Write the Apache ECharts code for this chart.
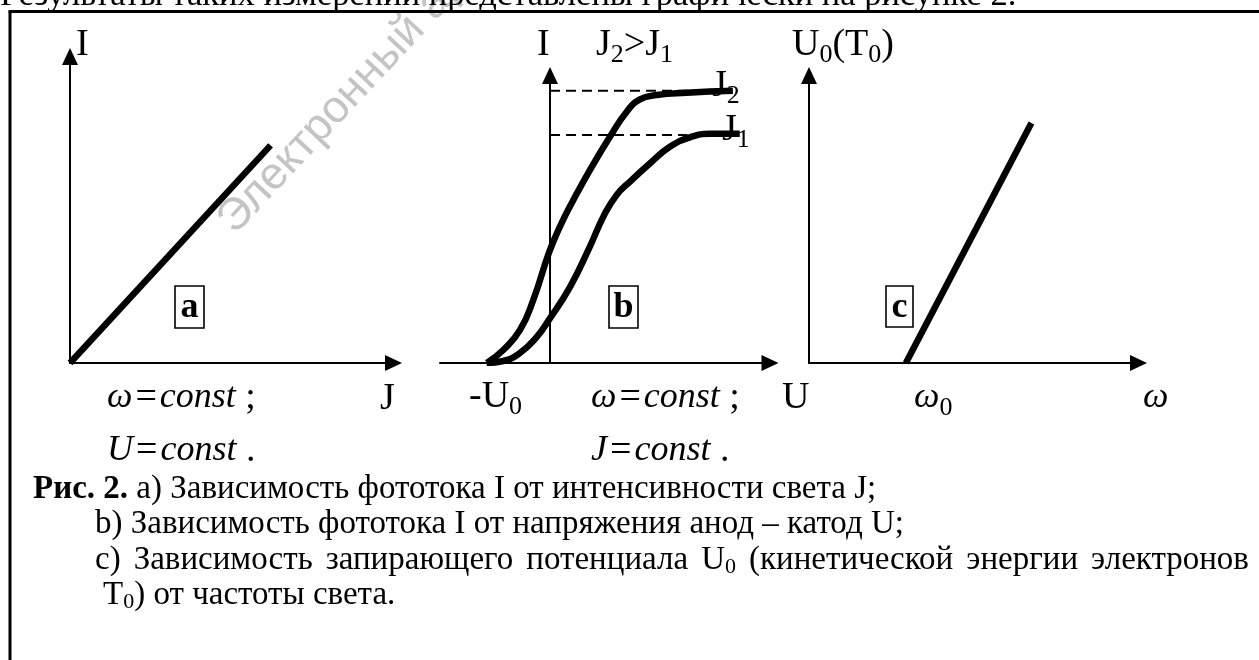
<!DOCTYPE html>
<html>
<head>
<meta charset="utf-8">
<script src="https://cdn.jsdelivr.net/npm/echarts@6/dist/echarts.min.js"></script>
<style>
  html, body { margin: 0; padding: 0; background: #fff; }
  #chart { width: 1259px; height: 660px; }
</style>
</head>
<body>
<div id="chart"></div>
<script>
// a) photocurrent I versus light intensity J (omega, U fixed)
const lineA = [[0, 0], [62, 71]];

// b) photocurrent I versus anode-cathode voltage U for two intensities
const curveJ2 = [[-2.3, 0], [-1.7, 4.5], [-1.09, 11.5], [-0.61, 21.9], [-0.04, 38.3], [0.36, 47.4],
  [0.85, 56.7], [1.45, 67.1], [2.18, 78.7], [2.79, 87.4], [3.27, 91.7], [3.88, 93.2],
  [4.97, 94.0], [6.65, 94.7]];
const curveJ1 = [[-2.3, 0], [-1.7, 0.7], [-1.09, 3.5], [-0.48, 9.1], [-0.04, 15.0], [0.73, 26.5],
  [1.45, 40.5], [1.94, 50.9], [2.42, 58.4], [2.91, 63.1], [3.64, 69.5], [4.36, 75.2],
  [5.09, 78.5], [5.82, 79.7], [6.9, 79.7]];
const satJ2 = [[0, 94.7], [6.0, 94.7]];
const satJ1 = [[0, 79.3], [5.0, 79.3]];

// c) stopping potential U0 versus light frequency omega
const lineC = [[29.4, 0], [67.5, 83.5]];

// caption text
const captionLines = [
  '{b|Рис. 2.}{t| a) Зависимость фототока I от интенсивности света J;}',
  '{t|b) Зависимость фототока I от напряжения анод – катод U;}',
  '{t|c)}{sp| }{t|Зависимость}{sp| }{t|запирающего}{sp| }{t|потенциала}{sp| }{t|U}{ts|0}{sp| }{t|(кинетической}{sp| }{t|энергии}{sp| }{t|электронов}',
  '{t|T}{ts|0}{t|) от частоты света.}'
];
const bodyText = 'Результаты таких измерений представлены графически на рисунке 2.';

const SERIF = '"Liberation Serif", "Times New Roman", serif';
const LBL = 38, ITL = 36, SUB = 26, CAP = 33;

const labelRich = {
  n: { fontSize: LBL, fontFamily: SERIF, lineHeight: 46, fill: '#000' },
  i: { fontSize: ITL, fontFamily: SERIF, fontStyle: 'italic', lineHeight: 46, fill: '#000' },
  e: { fontSize: LBL, fontFamily: SERIF, lineHeight: 46, fill: '#000', padding: [0, 3, 0, 3] },
  s: { fontSize: SUB, fontFamily: SERIF, lineHeight: SUB, verticalAlign: 'bottom', fill: '#000' }
};
const capRich = {
  b: { fontSize: CAP, fontFamily: SERIF, fontWeight: 'bold', lineHeight: 36, fill: '#000' },
  t: { fontSize: CAP, fontFamily: SERIF, lineHeight: 36, fill: '#000' },
  ts: { fontSize: 22, fontFamily: SERIF, lineHeight: 24, verticalAlign: 'bottom', fill: '#000' },
  sp: { fontSize: CAP, fontFamily: SERIF, lineHeight: 36, width: 13 }
};

function label(x, y, text, rich) {
  return {
    type: 'text', x: x, y: y, z: 10,
    style: {
      text: text, rich: rich || labelRich, fill: '#000',
      fontSize: LBL, fontFamily: SERIF,
      align: 'left', verticalAlign: 'middle',
      textAlign: 'left', textVerticalAlign: 'middle'
    }
  };
}

function boxLabel(x, y, w, h, ch) {
  return [
    { type: 'rect', z: 10, shape: { x: x, y: y, width: w, height: h },
      style: { fill: null, stroke: '#000', lineWidth: 1.6 } },
    { type: 'text', z: 10, x: x + w / 2, y: y + h / 2 + 1,
      style: { text: ch, fill: '#000', font: 'bold 36px ' + SERIF,
        align: 'center', verticalAlign: 'middle', textAlign: 'center', textVerticalAlign: 'middle' } }
  ];
}

function frameLine(x1, y1, x2, y2) {
  return { type: 'line', z: 10, shape: { x1: x1, y1: y1, x2: x2, y2: y2 },
    style: { stroke: '#000', lineWidth: 3 } };
}

const axisLine = {
  show: true, onZero: true,
  symbol: ['none', 'triangle'], symbolSize: [16, 17],
  lineStyle: { color: '#000', width: 2 }
};
function axis(idx, min, max) {
  return {
    type: 'value', gridIndex: idx, min: min, max: max,
    axisLine: axisLine, axisTick: { show: false }, axisLabel: { show: false },
    splitLine: { show: false }
  };
}

const thick = { color: '#000', width: 6.5, cap: 'butt' };

const chart = echarts.init(document.getElementById('chart'), null, { renderer: 'canvas' });
chart.setOption({
  animation: false,
  backgroundColor: '#fff',
  grid: [
    { left: 70, top: 56.5, width: 323.5, height: 306.5 },
    { left: 440, top: 75.5, width: 330, height: 287.5 },
    { left: 809, top: 75.5, width: 329.5, height: 287.5 }
  ],
  xAxis: [axis(0, 0, 100), axis(1, -4, 8), axis(2, 0, 100)],
  yAxis: [axis(0, 0, 100), axis(1, 0, 100), axis(2, 0, 100)],
  series: [
    { type: 'line', xAxisIndex: 0, yAxisIndex: 0, data: lineA, symbol: 'none', lineStyle: thick, z: 3 },
    { type: 'line', xAxisIndex: 1, yAxisIndex: 1, data: satJ2, symbol: 'none',
      lineStyle: { color: '#000', width: 2, type: [10, 6] }, z: 2 },
    { type: 'line', xAxisIndex: 1, yAxisIndex: 1, data: satJ1, symbol: 'none',
      lineStyle: { color: '#000', width: 2, type: [10, 6] }, z: 2 },
    { type: 'line', xAxisIndex: 1, yAxisIndex: 1, data: curveJ2, symbol: 'none', smooth: 0.5,
      lineStyle: thick, z: 3 },
    { type: 'line', xAxisIndex: 1, yAxisIndex: 1, data: curveJ1, symbol: 'none', smooth: 0.5,
      lineStyle: thick, z: 3 },
    { type: 'line', xAxisIndex: 2, yAxisIndex: 2, data: lineC, symbol: 'none', lineStyle: thick, z: 3 }
  ],
  graphic: [
    // watermark
    { type: 'text', x: 226, y: 227, rotation: 0.82, z: 1,
      style: { text: 'Электронный архив', fill: '#c4c4c4', font: '45px "Liberation Sans", Arial, sans-serif',
        align: 'left', verticalAlign: 'middle', textAlign: 'left', textVerticalAlign: 'middle' } },
    // running text above the figure
    { type: 'text', x: 0, y: -4.5, z: 10,
      style: { text: bodyText, fill: '#000', font: '34.5px ' + SERIF,
        align: 'left', verticalAlign: 'middle', textAlign: 'left', textVerticalAlign: 'middle' } },
    // figure frame
    frameLine(8.5, 11.5, 1259, 11.5),
    frameLine(10, 11.5, 10, 660),
    // axis names
    label(76, 45, '{n|I}'),
    label(537, 45, '{n|I}'),
    label(596, 45, '{n|J}{s|2}{n|>J}{s|1}'),
    label(792, 45, '{n|U}{s|0}{n|(T}{s|0}{n|)}'),
    label(712, 86, '{n|J}{s|2}'),
    label(722, 130, '{n|J}{s|1}'),
    // labels under panel a
    label(107, 398, '{i|ω}{e|=}{i|const}{n| ;}'),
    label(380, 399, '{n|J}'),
    label(107, 451, '{i|U}{e|=}{i|const}{n| .}'),
    // labels under panel b
    label(469, 397, '{n|-U}{s|0}'),
    label(591, 398, '{i|ω}{e|=}{i|const}{n| ;}'),
    label(782, 398, '{n|U}'),
    label(591, 451, '{i|J}{e|=}{i|const}{n| .}'),
    // labels under panel c
    label(914, 398, '{i|ω}{s|0}'),
    label(1143, 398, '{i|ω}'),
    // panel tags
    ...boxLabel(175, 286, 29, 42, 'a'),
    ...boxLabel(609, 286, 29, 42, 'b'),
    ...boxLabel(886, 286, 27, 41, 'c'),
    // caption
    label(33, 489, captionLines[0], capRich),
    label(95, 524.5, captionLines[1], capRich),
    label(95, 560, captionLines[2], capRich),
    label(103, 595.5, captionLines[3], capRich)
  ]
});
</script>
</body>
</html>
